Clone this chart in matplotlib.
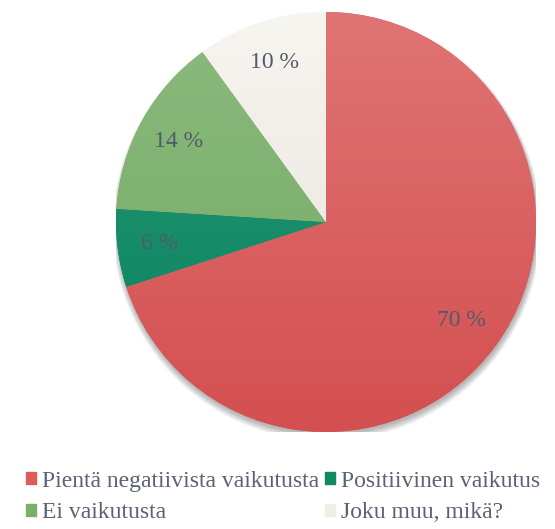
import matplotlib.pyplot as plt
import numpy as np
from matplotlib.colors import to_rgb

labels = ["Pientä negatiivista vaikutusta", "Positiivinen vaikutus",
          "Ei vaikutusta", "Joku muu, mikä?"]
values = [70, 6, 14, 10]
pct_text = ["70 %", "6 %", "14 %", "10 %"]
top_cols = ["#e07474", "#2e9a78", "#8abb7c", "#f7f5f0"]
bot_cols = ["#d44f50", "#03805c", "#74a766", "#e6e0da"]
legend_cols = ["#dc5b5b", "#0f8a65", "#7aae6c", "#f1eee8"]

serif = ['Liberation Serif', 'DejaVu Serif']
plt.rcParams['font.family'] = serif
txt_col = "#5b6273"

fig = plt.figure(figsize=(5.55, 5.29), dpi=100)
cx, cy, R = 326, 222, 210
W, H = 555, 529
ax = fig.add_axes([(cx - R) / W, 1 - (cy + R) / H, 2 * R / W, 2 * R / H])
ax.set_xlim(-1, 1)
ax.set_ylim(-1, 1)
ax.set_aspect('equal')
ax.axis('off')

# soft shadow
for k in range(6):
    c = plt.Circle((0.004, -0.012 - 0.002 * k), 1.0 + 0.004 * k,
                   color='black', alpha=0.05, lw=0, zorder=0)
    ax.add_patch(c)

wedges, _ = ax.pie(values, startangle=90, counterclock=False, radius=1,
                   colors=legend_cols, wedgeprops=dict(linewidth=0))

# vertical gradient inside each wedge
g = np.linspace(0, 1, 256)[:, None]
for w, tc, bc in zip(wedges, top_cols, bot_cols):
    t = np.array(to_rgb(tc))
    b = np.array(to_rgb(bc))
    img = t[None, None, :] * (1 - g[:, :, None]) + b[None, None, :] * g[:, :, None]
    img = np.repeat(img, 2, axis=1)
    im = ax.imshow(img, extent=(-1, 1, -1, 1), origin='upper', zorder=2,
                   aspect='auto')
    im.set_clip_path(w)
    w.set_zorder(1)

# percentage labels
start = 90.0
for v, s in zip(values, pct_text):
    mid = np.deg2rad(start - v * 3.6 / 2)
    ax.text(0.8 * np.cos(mid), 0.8 * np.sin(mid), s, ha='center', va='center',
            fontsize=17, color="#535a69", zorder=3, family=serif)
    start -= v * 3.6

ax.set_xlim(-1, 1)
ax.set_ylim(-1, 1)

handles = [plt.Rectangle((0, 0), 1, 1, color=c) for c in legend_cols]
order = [0, 2, 1, 3]
fig.legend([handles[i] for i in order], [labels[i] for i in order],
           loc='upper left', bbox_to_anchor=(0.03, 0.128),
           ncol=2, frameon=False, labelcolor=txt_col,
           prop=dict(family=serif, size=17),
           handlelength=0.42, handleheight=0.42, handletextpad=0.25,
           columnspacing=0.25, labelspacing=0.45, borderaxespad=0)

fig.savefig("out.png", dpi=100)
